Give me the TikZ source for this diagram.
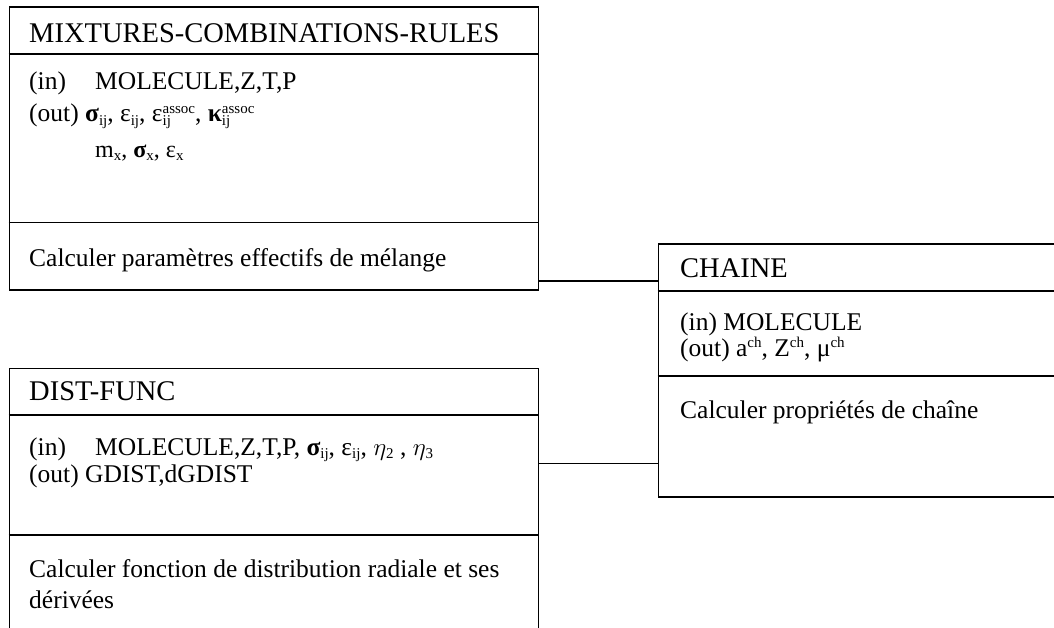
\documentclass[tikz,border=0pt]{standalone}
\usepackage{fontspec}
\setmainfont{Liberation Serif}
\usetikzlibrary{calc}
\newcommand{\smallfnt}{\fontsize{15}{15}\selectfont}
\newcommand{\ssub}[1]{\raisebox{-0.12em}{\smallfnt #1}}
\newcommand{\ssp}[1]{\raisebox{0.34em}{\smallfnt #1}}
\newcommand{\sbsp}[2]{\rlap{\ssub{#1}}\ssp{#2}}
\begin{document}
\begin{tikzpicture}[x=1pt,y=-1pt,
  box/.style={draw, line width=1.6pt, inner sep=0, anchor=north west, rectangle},
  divider/.style={line width=1.6pt},
  conn/.style={line width=1.6pt},
  ttl/.style={anchor=base west, inner sep=0, font=\fontsize{28.5}{30}\selectfont},
  txt/.style={anchor=base west, inner sep=0, font=\fontsize{25.5}{27}\selectfont},
  stxt/.style={anchor=base west, inner sep=0, font=\fontsize{24}{25}\selectfont}]
\useasboundingbox (0,0) rectangle (1054,628);
% boxes
\node[box, minimum width=529pt, minimum height=283pt] (mix) at (8.5,6) {};
\node[box, minimum width=420pt, minimum height=252.5pt] (chaine) at (657.5,243.5) {};
\node[box, minimum width=529pt, minimum height=290pt] (dist) at (8.5,367.5) {};
% dividers
\draw[divider] ($(mix.north west)+(0,48)$) -- ($(mix.north east)+(0,48)$);
\draw[divider] ($(mix.north west)+(0,216.5)$) -- ($(mix.north east)+(0,216.5)$);
\draw[divider] ($(chaine.north west)+(0,47.5)$) -- ($(chaine.north east)+(0,47.5)$);
\draw[divider] ($(chaine.north west)+(0,132.5)$) -- ($(chaine.north east)+(0,132.5)$);
\draw[divider] ($(dist.north west)+(0,47.5)$) -- ($(dist.north east)+(0,47.5)$);
\draw[divider] ($(dist.north west)+(0,167.5)$) -- ($(dist.north east)+(0,167.5)$);
% connectors
\coordinate (c1) at ($(mix.south east)+(0,-9.5)$);
\coordinate (c2) at ($(dist.north east)+(0,96)$);
\draw[conn] (c1) -- (c1 -| chaine.west);
\draw[conn] (c2) -- (c2 -| chaine.west);
% texts: MIXTURES
\node[ttl] (mixT) at (29,43) {MIXTURES-COMBINATIONS-RULES};
\node[txt] (mixIn) at (29,90) {\makebox[66pt][l]{(in)}MOLECULE,Z,T,P};
\node[txt] (mixOut) at (29,122) {(out) \textbf{σ}\ssub{ij}, ε\ssub{ij}, ε\sbsp{ij}{assoc}, \textbf{κ}\sbsp{ij}{assoc}};
\node[stxt] (mixOut2) at (95,158) {m\ssub{x}, \textbf{σ}\ssub{x}, ε\ssub{x}};
\node[txt] (mixOp) at (29,266) {Calculer paramètres effectifs de mélange};
% texts: CHAINE
\node[ttl] (chT) at (680,277) {CHAINE};
\node[txt] (chIn) at (680,330) {(in) MOLECULE};
\node[txt] (chOut) at (680,356) {(out) a\ssp{ch}, Z\ssp{ch}, μ\ssp{ch}};
\node[txt] (chOp) at (680,418) {Calculer propriétés de chaîne};
% texts: DIST-FUNC
\node[ttl] (dT) at (29,400) {DIST-FUNC};
\node[txt] (dIn) at (29,455) {\makebox[66pt][l]{(in)}MOLECULE,Z,T,P, \textbf{σ}\ssub{ij}, ε\ssub{ij}, $\eta$\ssub{2} , $\eta$\ssub{3}};
\node[txt] (dOut) at (29,482) {(out) GDIST,dGDIST};
\node[txt] (dOp1) at (29,577) {Calculer fonction de distribution radiale et ses};
\node[txt] (dOp2) at (29,608) {dérivées};
\end{tikzpicture}
\end{document}
